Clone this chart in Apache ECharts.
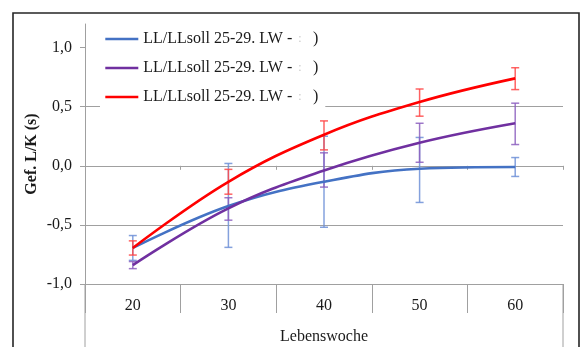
<!DOCTYPE html>
<html><head><meta charset="utf-8">
<script src="https://cdn.jsdelivr.net/npm/echarts@6/dist/echarts.min.js"></script>
<style>html,body{margin:0;padding:0;background:#fff}#c{width:581px;height:347px}</style>
</head><body><div id="c"></div>
<script>
const categories = ['20', '30', '40', '50', '60'];
const legendLabel = 'LL/LLsoll 25-29. LW -';
const yTicks = [-1, -0.5, 0, 0.5, 1];

const blueMean = [-0.695, -0.34, -0.135, -0.025, -0.01];
const blueLow  = [-0.80, -0.69, -0.52, -0.31, -0.09];
const blueHigh = [-0.59, 0.02, 0.25, 0.24, 0.07];

const purpleMean = [-0.84, -0.36, -0.04, 0.195, 0.36];
const purpleLow  = [-0.87, -0.46, -0.18, 0.03, 0.18];
const purpleHigh = [-0.81, -0.27, 0.11, 0.36, 0.53];

const redMean = [-0.695, -0.135, 0.263, 0.54, 0.74];
const redLow  = [-0.755, -0.24, 0.135, 0.42, 0.645];
const redHigh = [-0.635, -0.03, 0.38, 0.65, 0.83];

const G = {left: 85, right: 18, top: 24, bottom: 63, outerBoundsMode: 'none', containLabel: false};
const W = 581, H = 347;
const font = '"Liberation Serif", "Times New Roman", serif';
const gridColor = '#a0a0a0';
const FS = 16;

function errData(low, high) {
  return categories.map((c, i) => [i, low[i], high[i]]);
}
function errSeries(name, low, high, color) {
  return {
    type: 'custom', name: name + '_err', z: 1, silent: true,
    data: errData(low, high),
    encode: {x: 0, y: [1, 2]},
    renderItem: function (params, api) {
      const x = api.value(0);
      const lo = api.coord([x, api.value(1)]);
      const hi = api.coord([x, api.value(2)]);
      const cw = 4;
      const st = {stroke: color, lineWidth: 1.5};
      return {type: 'group', children: [
        {type: 'line', shape: {x1: lo[0], y1: lo[1], x2: hi[0], y2: hi[1]}, style: st},
        {type: 'line', shape: {x1: lo[0] - cw, y1: lo[1], x2: lo[0] + cw, y2: lo[1]}, style: st},
        {type: 'line', shape: {x1: hi[0] - cw, y1: hi[1], x2: hi[0] + cw, y2: hi[1]}, style: st}
      ]};
    }
  };
}
function lineSeries(name, data, color) {
  return {type: 'line', name: name, data: data, smooth: 0.4, symbol: 'none', z: 3,
    lineStyle: {color: color, width: 2.6}, itemStyle: {color: color}};
}

const chart = echarts.init(document.getElementById('c'), null, {renderer: 'canvas'});
chart.setOption({
  animation: false,
  backgroundColor: '#fff',
  textStyle: {fontFamily: font},
  grid: G,
  legend: {
    left: 100, top: 27, orient: 'vertical', itemGap: 13, itemWidth: 33, itemHeight: 18,
    padding: [4, 7, 8, 4], backgroundColor: '#fff',
    data: ['s1', 's2', 's3'],
    itemStyle: {opacity: 0},
    lineStyle: {width: 2.6},
    formatter: function () { return '{t|' + legendLabel + '}{g|:}{p|)}'; },
    textStyle: {
      fontFamily: font, fontSize: FS, color: '#1a1a1a',
      rich: {
        t: {fontFamily: font, fontSize: FS, color: '#1a1a1a'},
        g: {fontFamily: font, fontSize: 12, color: '#c8c8c8', width: 15, align: 'center'},
        p: {fontFamily: font, fontSize: FS, color: '#1a1a1a', width: 11, align: 'right'}
      }
    }
  },
  xAxis: [{
    type: 'category', data: categories, boundaryGap: true,
    axisLine: {onZero: false, lineStyle: {color: gridColor, width: 1}},
    axisTick: {show: true, length: 29, lineStyle: {color: gridColor}},
    axisLabel: {margin: 14, fontSize: FS, color: '#1a1a1a', fontFamily: font},
    name: 'Lebenswoche', nameLocation: 'middle', nameGap: 45,
    nameTextStyle: {fontSize: FS, color: '#1a1a1a', fontFamily: font}
  }, {
    type: 'category', data: categories, boundaryGap: true, position: 'bottom',
    axisLine: {onZero: true, lineStyle: {color: gridColor, width: 1}},
    axisTick: {show: true, length: 4, lineStyle: {color: gridColor}},
    axisLabel: {show: false}
  }],
  yAxis: {
    type: 'value', min: -1, max: 1.2, interval: 0.5,
    axisLine: {show: true, lineStyle: {color: gridColor}},
    axisTick: {show: true, length: 5, lineStyle: {color: gridColor}, customValues: yTicks},
    axisLabel: {margin: 13, fontSize: FS, color: '#1a1a1a', fontFamily: font, customValues: yTicks,
      formatter: v => v.toFixed(1).replace('.', ',')},
    splitLine: {show: true, showMaxLine: false, lineStyle: {color: gridColor, width: 1}},
    name: 'Gef. L/K (s)', nameLocation: 'middle', nameGap: 45, nameMoveOverlap: false,
    nameTextStyle: {fontSize: FS, fontWeight: 'bold', color: '#1a1a1a', fontFamily: font}
  },
  graphic: [
    {type: 'rect', shape: {x: 13, y: 13, width: W - 15, height: H + 20},
     style: {fill: 'none', stroke: '#262626', lineWidth: 1.6}, z: 10, silent: true},
    {type: 'line', shape: {x1: G.left, y1: H - G.bottom, x2: G.left, y2: H},
     style: {stroke: gridColor, lineWidth: 1}, silent: true},
    {type: 'line', shape: {x1: W - G.right, y1: H - G.bottom, x2: W - G.right, y2: H},
     style: {stroke: gridColor, lineWidth: 1}, silent: true}
  ],
  series: [
    errSeries('s1', blueLow, blueHigh, 'rgba(110,145,215,0.85)'),
    errSeries('s2', purpleLow, purpleHigh, 'rgba(140,95,190,0.85)'),
    errSeries('s3', redLow, redHigh, 'rgba(255,70,70,0.85)'),
    lineSeries('s1', blueMean, '#4472C4'),
    lineSeries('s2', purpleMean, '#7030A0'),
    lineSeries('s3', redMean, '#FF0000')
  ]
});
</script></body></html>
